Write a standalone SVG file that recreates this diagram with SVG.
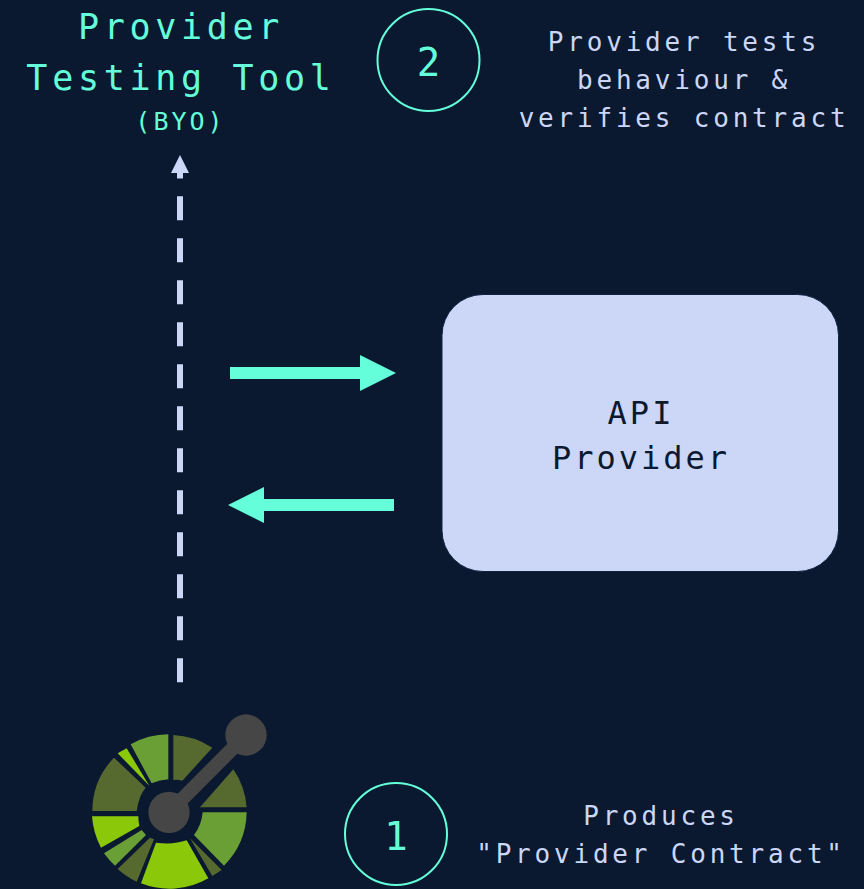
<svg xmlns="http://www.w3.org/2000/svg" width="864" height="889" viewBox="0 0 864 889">
<style>
text{font-family:"DejaVu Sans Mono","Liberation Mono",monospace;text-anchor:middle}
.t{fill:#64ffda}
.l{fill:#ccd6f6}
.big{font-size:35px;letter-spacing:4.7px}
.mid{font-size:26px;letter-spacing:3.8px}
.num{font-size:39px}
.ring{fill:none;stroke:#64ffda;stroke-width:2}
.d{fill:#566a2f}.g{fill:#6a9f35}.y{fill:#8cc80a}.h{fill:#464646}
</style>
<rect width="864" height="889" fill="#0a192f"/>
<g id="connectors">
<line x1="180" y1="682.300" x2="180" y2="196.300" stroke="#ccd6f6" stroke-width="6" stroke-dasharray="24 18"/>
<polygon class="l" points="180,155 189,173 183,173 183,178.500 177,178.500 177,173 171,173"/>
<polygon class="t" points="230,367 360,367 360,355 396,373 360,391 360,379 230,379"/>
<polygon class="t" points="394,499 264,499 264,487 228,505 264,523 264,511 394,511"/>
</g>
<g id="tool">
<text class="t big" x="181" y="39">Provider</text>
<text class="t big" x="181" y="90">Testing Tool</text>
<text class="t" x="180.500" y="130" style="font-size:25px;letter-spacing:3px">(BYO)</text>
</g>
<g id="step2">
<circle class="ring" cx="428.500" cy="60" r="51"/>
<text class="t num" x="428.500" y="76">2</text>
<text class="l mid" x="684" y="51">Provider tests</text>
<text class="l mid" x="684" y="89">behaviour &amp;</text>
<text class="l mid" x="684" y="127">verifies contract</text>
</g>
<g id="provider">
<rect x="442" y="294.500" width="396.500" height="277" rx="41" fill="#ccd6f6" stroke="#112240" stroke-width="1"/>
<text x="641" y="424" fill="#0a192f" style="font-size:32px;letter-spacing:3px">API</text>
<text x="641" y="469" fill="#0a192f" style="font-size:32px;letter-spacing:3px">Provider</text>
</g>
<g id="logo" transform="translate(70 700) scale(.33333)">
<path class="d" d="M310 105A232 232 0 0 1 427 143L337 242Q322 238 310 240Z"/>
<path class="g" d="M295 103A232 232 0 0 0 182 133L245 250Q270 240 295 238Z"/>
<path class="y" d="M143 160L170 145L238 257Z"/>
<path class="d" d="M132 173A232 232 0 0 0 67 333H200Q207 285 227 263Z"/>
<path class="y" d="M66 349H205Q205 365 208 378L93 443A232 232 0 0 1 66 349Z"/>
<path class="g" d="M102 460L215 390L228 405L135 497A232 232 0 0 1 102 460Z"/>
<path class="d" d="M143 507L240 413L252 418L200 545A232 232 0 0 1 143 507Z"/>
<path class="y" d="M258 428Q310 435 350 421L415 535A232 232 0 0 1 213 550Z"/>
<path class="d" d="M360 415L455 510L427 528Z"/>
<path class="g" d="M372 405Q395 375 398 337H530A232 232 0 0 1 462 497Z"/>
<path class="d" d="M390 322L490 208A232 232 0 0 1 530 322Z"/>
<line x1="297" y1="337" x2="528" y2="105" stroke="#464646" stroke-width="42"/>
<circle class="h" cx="297" cy="337" r="62"/>
<circle class="h" cx="528" cy="105" r="62"/>
</g>
<g id="step1">
<circle class="ring" cx="396" cy="834" r="51"/>
<text class="t num" x="396" y="850">1</text>
<text class="l mid" x="661" y="825">Produces</text>
<text class="l mid" x="661" y="863">"Provider Contract"</text>
</g>
</svg>
